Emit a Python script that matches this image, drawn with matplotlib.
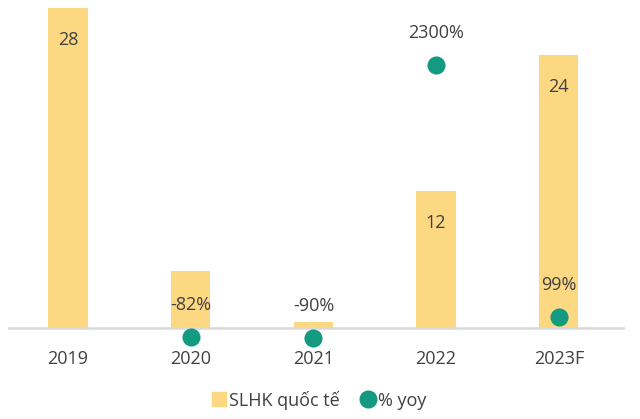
import numpy as np
import matplotlib.pyplot as plt
import matplotlib as mpl
from matplotlib.lines import Line2D

mpl.rcParams['font.family'] = ['Open Sans', 'DejaVu Sans']
mpl.rcParams['text.color'] = '#404040'

years = ['2019', '2020', '2021', '2022', '2023F']
slhk = [28, 5.0, 0.5, 12.0, 23.9]
slhk_labels = ['28', '', '', '12', '24']
yoy = [None, -82, -90, 2300, 99]
yoy_labels = ['', '-82%', '-90%', '2300%', '99%']

bar_color = '#FDD882'
dot_color = '#139A80'
txt = '#404040'
fs = 13

fig = plt.figure(figsize=(6.4, 4.19), dpi=100)
ax = fig.add_axes([8 / 640, 1 - 350 / 419, 617 / 640, 350 / 419])
ax2 = ax.twinx()

x = np.arange(len(years))
ax.bar(x, slhk, width=0.32, color=bar_color, zorder=2)
ax.axhline(0, color='#D9D9D9', lw=1.8, zorder=1)

# secondary scale is exactly 100x the primary one, zero lines up
lo, hi = -22 / 11.43, 328 / 11.43
ax.set_ylim(lo, hi)
ax2.set_ylim(lo * 100, hi * 100)
ax.set_xlim(-0.49, 4.54)

for i, (v, lab) in enumerate(zip(slhk, slhk_labels)):
    if lab:
        ax.text(i, v - 2.8, lab, ha='center', va='center', fontsize=fs, color=txt)

xd = [i for i, v in enumerate(yoy) if v is not None]
yd = [v for v in yoy if v is not None]
ax2.scatter(xd, yd, s=170, color=dot_color, zorder=3, clip_on=False, linewidths=0)
for i, v in zip(xd, yd):
    ax2.text(i, v + 280, yoy_labels[i], ha='center', va='center', fontsize=fs, color=txt)

for a in (ax, ax2):
    for s in a.spines.values():
        s.set_visible(False)
    a.set_yticks([])
ax.set_xticks(x)
ax.set_xticklabels(years, fontsize=fs, color=txt)
ax.tick_params(axis='x', length=0, pad=0)

handles = [Line2D([], [], marker='s', ls='', color=bar_color, markersize=10),
           Line2D([], [], marker='o', ls='', color=dot_color, markersize=12)]
fig.legend(handles, ['SLHK quốc tế', '% yoy'], loc='center', bbox_to_anchor=(0.497, 0.045),
           ncol=2, frameon=False, fontsize=fs, handletextpad=0.05, columnspacing=1.1,
           handlelength=1.0)

fig.savefig('out.png', dpi=100)
